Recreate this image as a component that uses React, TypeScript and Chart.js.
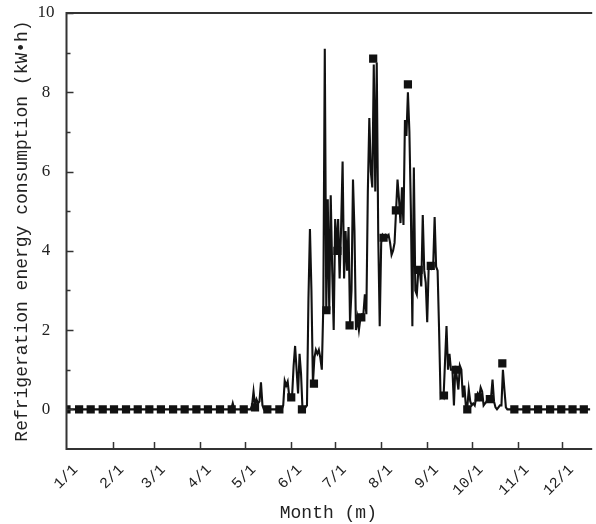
import { useEffect, useRef } from 'react';
import { Chart, registerables } from 'chart.js';

Chart.register(...registerables);

// Day-of-year index of each month start and its axis label
const monthStartDays = [0, 31, 59, 90, 120, 151, 181, 212, 243, 273, 304, 334];
const monthLabels = ['1/1', '2/1', '3/1', '4/1', '5/1', '6/1', '7/1', '8/1', '9/1', '10/1', '11/1', '12/1'];

// Y axis: labelled major ticks and unlabelled minor ticks
const yMajorTicks = [0, 2, 4, 6, 8, 10];
const yMinorTicks = [1, 3, 5, 7, 9];

// Daily refrigeration energy consumption (kW·h), day 0 = 1 Jan
const dailyKwh = [
  0, 0, 0, 0, 0, 0, 0, 0, 0, 0,
  0, 0, 0, 0, 0, 0, 0, 0, 0, 0,
  0, 0, 0, 0, 0, 0, 0, 0, 0, 0,
  0, 0, 0, 0, 0, 0, 0, 0, 0, 0,
  0, 0, 0, 0, 0, 0, 0, 0, 0, 0,
  0, 0, 0, 0, 0, 0, 0, 0, 0, 0,
  0, 0, 0, 0, 0, 0, 0, 0, 0, 0,
  0, 0, 0, 0, 0, 0, 0, 0, 0, 0,
  0, 0, 0, 0, 0, 0, 0, 0, 0, 0,
  0, 0, 0, 0, 0, 0, 0, 0, 0, 0,
  0, 0, 0, 0, 0, 0, 0, 0, 0, 0,
  0, 0, 0.15, 0, 0, 0, 0, 0, 0, 0,
  0, 0, 0, 0, 0, 0.1, 0.45, 0.1, 0.25, 0.15,
  0.2, 0.68, 0.1, 0, 0, 0, 0, 0, 0, 0,
  0, 0, 0, 0, 0, 0, 0.1, 0.72, 0.6, 0.7,
  0.35, 0.3, 0.35, 1.1, 1.6, 1.0, 0.4, 1.4, 0.9, 0,
  0, 0.05, 0.1, 2.8, 4.55, 3.0, 0.65, 1.3, 1.5, 1.4,
  1.5, 1.3, 1.0, 2.6, 9.1, 2.5, 5.3, 2.5, 5.4, 3.5,
  2.0, 4.8, 4.0, 4.8, 3.3, 4.6, 6.25, 3.3, 4.5, 3.5,
  4.6, 2.2, 3.0, 5.8, 4.5, 2.0, 2.3, 2.0, 2.3, 2.4,
  2.4, 2.9, 2.4, 5.5, 7.35, 6.0, 5.6, 8.7, 5.5, 8.75,
  4.4, 2.1, 4.2, 4.4, 4.35, 4.4, 4.35, 4.4, 4.2, 3.9,
  4.0, 4.2, 5.0, 5.8, 5.3, 4.7, 5.6, 4.65, 7.3, 6.9,
  8.0, 7.0, 5.0, 2.1, 6.1, 3.0, 2.9, 3.5, 3.5, 3.1,
  4.9, 3.5, 3.2, 2.2, 3.6, 3.6, 3.55, 3.6, 4.85, 3.6,
  3.5, 2.0, 0.3, 0.35, 0.3, 1.2, 2.1, 1.0, 1.4, 1.0,
  1.0, 0.1, 1.1, 0.8, 0.5, 1.1, 1.0, 0.3, 0.6, 0.1,
  0.05, 0.5, 0.2, 0.1, 0.15, 0.1, 0.3, 0.4, 0.3, 0.55,
  0.45, 0.1, 0.15, 0.2, 0.3, 0.25, 0.3, 0.75, 0.2, 0.05,
  0, 0.05, 0.1, 0.1, 1.0, 0.5, 0.05, 0, 0, 0,
  0, 0, 0, 0, 0, 0, 0, 0, 0, 0,
  0, 0, 0, 0, 0, 0, 0, 0, 0, 0,
  0, 0, 0, 0, 0, 0, 0, 0, 0, 0,
  0, 0, 0, 0, 0, 0, 0, 0, 0, 0,
  0, 0, 0, 0, 0, 0, 0, 0, 0, 0,
  0, 0, 0, 0, 0, 0, 0, 0, 0, 0,
  0, 0, 0, 0, 0,
];

// Square symbols placed along the series
const markerDays = [
  0, 8.5, 16.3, 24.4, 32, 40.1, 48, 55.8, 63.6, 71.8, 79.6, 87.5, 95.3, 103.4, 111.3, 119.4,
  127, 135.3, 143.4, 151.4, 158.6, 166.7, 175.1, 182.5, 190.7, 198.6, 206.6, 213.6, 221.9,
  230, 237.2, 245.4, 254.3, 262.4, 270, 277.6, 285.2, 293.6,
  301.7, 309.8, 317.7, 325.8, 333.3, 340.9, 348.5,
];
const markerKwh = [
  0, 0, 0, 0, 0, 0, 0, 0, 0, 0, 0, 0, 0, 0, 0, 0,
  0.05, 0, 0, 0.3, 0, 0.65, 2.5, 4.0, 2.12, 2.32, 8.85, 4.33, 5.02,
  8.2, 3.52, 3.62, 0.35, 1.0, 0, 0.3, 0.26, 1.16,
  0, 0, 0, 0, 0, 0, 0,
];

const X_MAX_DAY = 352.8;
const INK = '#111111';
const AXIS = '#333333';

// Frame and inward-pointing tick marks
const framePlugin = {
  id: 'frame',
  afterDatasetsDraw(chart: any) {
    const { ctx, chartArea, scales } = chart;
    const { left, top, right, bottom } = chartArea;
    const x = scales.x;
    const y = scales.y;
    ctx.save();
    ctx.strokeStyle = AXIS;
    ctx.lineWidth = 2;
    ctx.beginPath();
    ctx.moveTo(right + 2, top);
    ctx.lineTo(left, top);
    ctx.lineTo(left, bottom);
    ctx.lineTo(right + 2, bottom);
    ctx.stroke();

    ctx.lineWidth = 1.5;
    ctx.beginPath();
    yMajorTicks.forEach((v) => {
      const py = Math.round(y.getPixelForValue(v)) + 0.5;
      ctx.moveTo(left, py);
      ctx.lineTo(left + 7, py);
    });
    yMinorTicks.forEach((v) => {
      const py = Math.round(y.getPixelForValue(v)) + 0.5;
      ctx.moveTo(left, py);
      ctx.lineTo(left + 4, py);
    });
    monthStartDays.forEach((d) => {
      if (d === 0) return;
      const px = Math.round(x.getPixelForValue(d)) + 0.5;
      ctx.moveTo(px, bottom);
      ctx.lineTo(px, bottom - 7);
    });
    ctx.stroke();
    ctx.restore();
  },
};

export default function App() {
  const canvasRef = useRef<HTMLCanvasElement | null>(null);

  useEffect(() => {
    const canvas = canvasRef.current;
    if (!canvas) return;

    const chart = new Chart(canvas, {
      type: 'line',
      data: {
        datasets: [
          {
            label: 'Daily consumption',
            data: dailyKwh.map((v, i) => ({ x: i, y: v })),
            borderColor: INK,
            borderWidth: 2.1,
            pointRadius: 0,
            tension: 0,
            fill: false,
            order: 2,
          },
          {
            label: 'Symbols',
            data: markerDays.map((d, i) => ({ x: d, y: markerKwh[i] })),
            showLine: false,
            pointStyle: 'rect',
            pointRadius: 5.8,
            pointBackgroundColor: INK,
            pointBorderWidth: 0,
            order: 1,
          },
        ],
      },
      options: {
        responsive: false,
        animation: false,
        events: [],
        layout: { padding: { top: 13, left: 0, right: 0, bottom: 0 } },
        plugins: {
          legend: { display: false },
          tooltip: { enabled: false },
        },
        scales: {
          x: {
            type: 'linear',
            min: 0,
            max: X_MAX_DAY,
            grid: { display: false, drawTicks: false },
            border: { display: false },
            afterBuildTicks: (scale: any) => {
              scale.ticks = monthStartDays.map((v) => ({ value: v }));
            },
            afterFit: (scale: any) => {
              scale.height = 75;
              scale.paddingLeft = 0;
              scale.paddingRight = 0;
            },
            ticks: {
              autoSkip: false,
              minRotation: 45,
              maxRotation: 45,
              padding: 12,
              labelOffset: 9,
              color: '#222',
              font: { family: '"Liberation Mono", monospace', size: 15 },
              callback: (value: any) => {
                const idx = monthStartDays.indexOf(Number(value));
                return idx >= 0 ? monthLabels[idx] : '';
              },
            },
            title: {
              display: true,
              text: 'Month (m)',
              color: '#222',
              padding: { top: 0, bottom: 0 },
              font: { family: '"Liberation Mono", monospace', size: 18 },
            },
          },
          y: {
            type: 'linear',
            min: -1,
            max: 10,
            grid: { display: false, drawTicks: false },
            border: { display: false },
            afterBuildTicks: (scale: any) => {
              scale.ticks = yMajorTicks.map((v) => ({ value: v }));
            },
            afterFit: (scale: any) => {
              scale.width = 66.5;
              scale.paddingTop = 0;
              scale.paddingBottom = 0;
            },
            ticks: {
              crossAlign: 'center',
              padding: 12,
              color: '#222',
              font: { family: '"Liberation Serif", "Times New Roman", serif', size: 17 },
              callback: (value: any) => String(value),
            },
            title: {
              display: true,
              text: 'Refrigeration energy consumption (kW\u2022h)',
              color: '#222',
              padding: { top: 11, bottom: 0 },
              font: { family: '"Liberation Mono", monospace', size: 18 },
            },
          },
        },
      },
      plugins: [framePlugin],
    });

    return () => chart.destroy();
  }, []);

  return (
    <canvas
      ref={canvasRef}
      width={596}
      height={524}
      style={{ position: 'absolute', left: 0, top: 0, display: 'block' }}
    />
  );
}
